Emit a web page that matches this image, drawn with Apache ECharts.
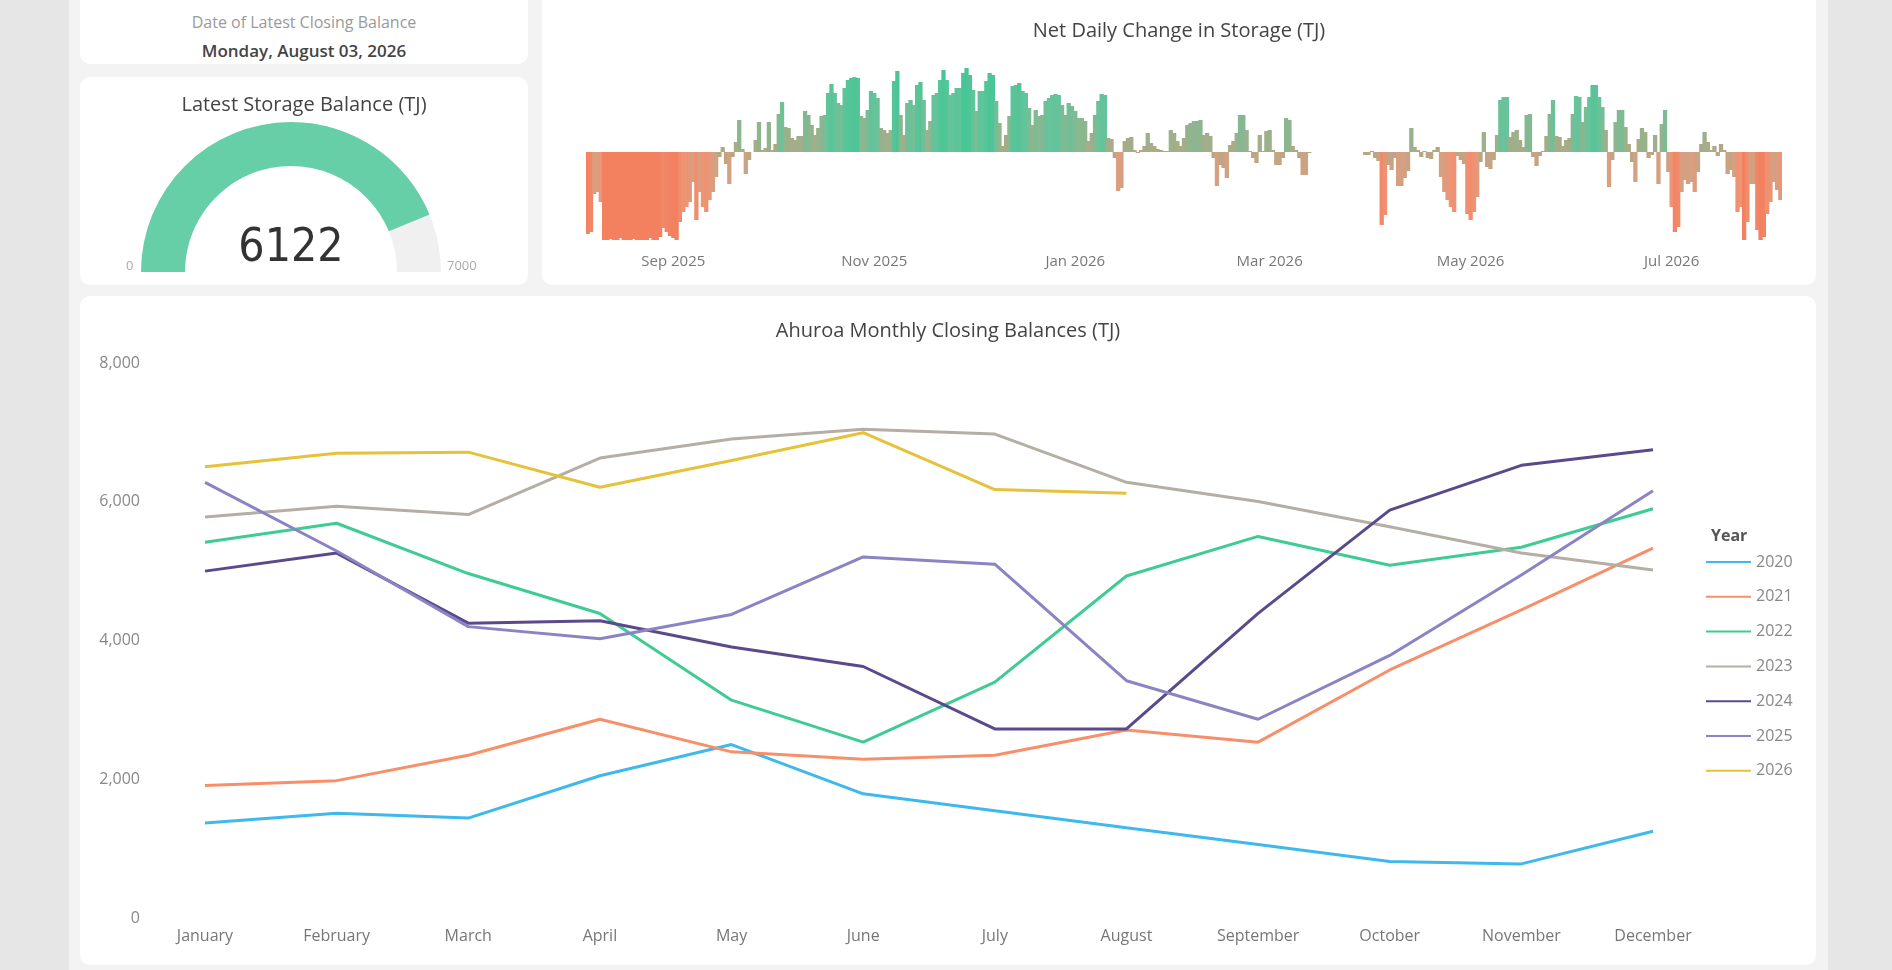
<!DOCTYPE html>
<html>
<head>
<meta charset="utf-8">
<title>Ahuroa Storage</title>
<script src="https://cdn.jsdelivr.net/npm/echarts@6/dist/echarts.min.js"></script>
<style>
    html, body { margin: 0; padding: 0; }
    body {
        width: 1892px; height: 970px; position: relative; overflow: hidden;
        background: #e6e6e6;
        font-family: 'Segoe UI', 'Open Sans', sans-serif;
    }
    #page { position: absolute; left: 69px; top: 0; width: 1759px; height: 970px; background: #f3f3f3; }
    .card { position: absolute; background: #fff; border-radius: 10px; overflow: hidden; }
    .chart { position: absolute; left: 0; top: 0; width: 100%; height: 100%; }
    .txt { position: absolute; left: 0; width: 100%; text-align: center; white-space: nowrap; }
    #dateTitle { top: 21px; font-size: 16px; line-height: 22px; color: #9a9a9a; }
    #dateValue { top: 49px; font-size: 17px; line-height: 24px; color: #444; font-weight: 600; }
</style>
</head>
<body>
<div id="page"></div>
<div class="card" style="left:80px;top:-10px;width:448px;height:74px">
    <div class="txt" id="dateTitle">Date of Latest Closing Balance</div>
    <div class="txt" id="dateValue"></div>
</div>
<div class="card" style="left:80px;top:77px;width:448px;height:208px">
    <div class="chart" id="gauge"></div>
</div>
<div class="card" style="left:542px;top:-10px;width:1274px;height:295px">
    <div class="chart" id="daily"></div>
</div>
<div class="card" style="left:80px;top:296px;width:1736px;height:669px">
    <div class="chart" id="monthly"></div>
</div>
<script>
// 最新结余
var latestDate = 'Monday, August 03, 2026';
var latestBalance = 6122;
var gaugeMax = 7000;

// 月度结余 (TJ)
var months = ['January', 'February', 'March', 'April', 'May', 'June', 'July',
    'August', 'September', 'October', 'November', 'December'];
var years = ['2020', '2021', '2022', '2023', '2024', '2025', '2026'];
var bal2020 = [1370, 1510, 1440, 2050, 2500, 1790, 1545, 1300, 1060, 815, 780, 1250];
var bal2021 = [1910, 1980, 2345, 2865, 2395, 2290, 2345, 2710, 2535, 3575, 4440, 5330];
var bal2022 = [5415, 5690, 4965, 4390, 3140, 2535, 3400, 4930, 5500, 5085, 5345, 5900];
var bal2023 = [5780, 5935, 5815, 6630, 6905, 7045, 6975, 6280, 6005, 5640, 5260, 5015];
var bal2024 = [5000, 5260, 4250, 4285, 3905, 3625, 2725, 2725, 4390, 5880, 6525, 6750];
var bal2025 = [6280, 5290, 4200, 4025, 4375, 5205, 5100, 3420, 2865, 3785, 4945, 6160];
var bal2026 = [6505, 6700, 6715, 6210, 6595, 6995, 6175, 6122];
var yearColors = ['#3fb8ec', '#f78f6b', '#3ecc94', '#b5aea4', '#5b4a8b', '#8a84c4', '#e6c13a'];

// 每日净变化 (TJ), 自 2025-08-06 起, null 为缺失日
var startDay = '2025-08-06';
var tickDays = ['2025-09-01', '2025-11-01', '2026-01-01', '2026-03-01', '2026-05-01', '2026-07-01'];
var tickLabels = ['Sep 2025', 'Nov 2025', 'Jan 2026', 'Mar 2026', 'May 2026', 'Jul 2026'];
var dailyChange = [
    -82, -80, -42, -40, -50, -88, -88, -87, -88, -88, -86, -88, -88, -88, -87, -88,
    -88, -88, -88, -86, -88, -88, -85, -76, -80, -84, -86, -88, -70, -60, -55, -50,
    -30, -68, -40, -55, -60, -48, -40, -25, -5, 5, -12, -32, -5, 10, 32, 3,
    -22, -8, 0, 12, 30, 2, 4, 30, 2, 8, 38, 50, 25,
    24, 14, 12, 16, 16, 41, 37, 27, 17, 24, 36, 37, 59, 68, 59, 49,
    47, 64, 72, 74, 75, 74, 36, 34, 42, 61, 59, 54, 24, 22, 19, 22,
    71, 81, 37, 17, 49, 52, 47, 67, 70, 52, 22, 31, 57, 59, 72, 82,
    72, 57, 59, 64, 64, 79, 84, 77, 62, 41, 61, 61, 71, 79,
    77, 51, 29, 6, 17, 36, 66, 67, 69, 61, 59, 44, 27, 42, 36, 37,
    51, 54, 57, 58, 57, 47, 37, 49, 46, 41, 34, 34, 31, 11, 19, 37,
    51, 58, 57, 14, 13, -6, -39, -36, 11, 14, 15, 2, -1, 2, 6, 19,
    9, 6, 3, 2, 1, 1, 22, 19, 11, 6, 14, 27, 29, 31,
    31, 32, 17, 19, 16, -6, -34, -13, -16, -26, 7, 11, 19, 37, 37, 22,
    1, -6, -11, 17, 1, 21, 22, 2, -13, -13, -6, 34, 32, 6, 2, -6,
    -23, -23, -1,
    null, null, null, null, null, null, null, null,
    null, null, null, null, null, null, null, null,
    -3, -3, 1, -6, -9, -73, -63, -13, -18, -6, -34, -34, -26, -19, 24,
    5, 2, -5, 1, -6, -7, 2, 5, -25, -40, -48, -55, -60, -4, -8, -12,
    -62, -68, -60, -45, -10, 20, -15, -17, -8, 17, 52, 55, 55, 15, 20, 22,
    12, 5, 37, 38, -5, -14, -4, 1, 16, 38, 52, 16, 15, 6, 12, 14,
    38, 56, 55, 30, 45, 55, 67, 67, 55, 45, 22, -35, -8,
    30, 42, 42, 25, 8, -10, -30, 13, 24, 20, -6, -3, 17, -32, 28, 42,
    -20, -55, -80, -75, -40, -28, -32, -30, -40, -20, 8, 20, 10, 2, 6, -4,
    8, 2, -22, -18, -25, -60, -55, -88, -70, -32, -32, -78, -88, -85, -62, -50,
    -30, -38, -48
];

var fontFamily = "'Segoe UI', 'Open Sans', sans-serif";
var titleStyle = { fontSize: 20, fontWeight: 'normal', color: '#444', fontFamily: fontFamily };

document.getElementById('dateValue').textContent = latestDate;

// 日期类目
var days = [];
var t0 = new Date(startDay + 'T00:00:00Z').getTime();
for (var i = 0; i < dailyChange.length; i++) {
    days.push(new Date(t0 + i * 86400000).toISOString().slice(0, 10));
}

// 仪表盘
var gaugeChart = echarts.init(document.getElementById('gauge'));
gaugeChart.setOption({
    animation: false,
    title: { text: 'Latest Storage Balance (TJ)', left: 'center', top: 13, textStyle: titleStyle },
    graphic: [
        { type: 'text', left: 46, top: 183, style: { text: '0', fill: '#aaa', fontSize: 13, fontFamily: fontFamily } },
        { type: 'text', left: 367, top: 183, style: { text: String(gaugeMax), fill: '#aaa', fontSize: 13, fontFamily: fontFamily } }
    ],
    series: [{
        type: 'gauge',
        center: [211, 195],
        radius: 150,
        startAngle: 180,
        endAngle: 0,
        min: 0,
        max: gaugeMax,
        progress: { show: true, width: 44, itemStyle: { color: '#66cfa8' } },
        axisLine: { lineStyle: { width: 44, color: [[1, '#f0f0f0']] } },
        pointer: { show: false },
        anchor: { show: false },
        axisTick: { show: false },
        splitLine: { show: false },
        axisLabel: { show: false },
        title: { show: false },
        detail: {
            offsetCenter: [0, -23],
            fontSize: 46,
            fontWeight: 'normal',
            color: '#333',
            fontFamily: "'DejaVu Sans Condensed', sans-serif",
            formatter: '{value}'
        },
        data: [{ value: latestBalance }]
    }]
});

// 每日净变化柱状图
var dailyChart = echarts.init(document.getElementById('daily'));
dailyChart.setOption({
    animation: false,
    title: { text: 'Net Daily Change in Storage (TJ)', left: 'center', top: 26, textStyle: titleStyle },
    grid: { left: 44, right: 34, top: 72, bottom: 43 },
    visualMap: {
        show: false,
        type: 'continuous',
        seriesIndex: 0,
        min: -88,
        max: 85,
        inRange: { color: ['#f3805f', '#ef9373', '#d3a183', '#b8a683', '#94b38d', '#66c39b', '#45c695'] }
    },
    xAxis: {
        type: 'category',
        data: days,
        axisLine: { show: false, onZero: false },
        axisTick: { show: false },
        axisLabel: {
            interval: function (idx, value) { return tickDays.indexOf(value) >= 0; },
            formatter: function (value) {
                var k = tickDays.indexOf(value);
                return k >= 0 ? tickLabels[k] : '';
            },
            color: '#777',
            fontSize: 15,
            margin: 12,
            fontFamily: fontFamily
        }
    },
    yAxis: { type: 'value', min: -90, max: 90, show: false },
    series: [{
        type: 'bar',
        data: dailyChange,
        barWidth: '130%'
    }]
});

// 月度结余折线图
var balances = [bal2020, bal2021, bal2022, bal2023, bal2024, bal2025, bal2026];
var lineSeries = years.map(function (y, k) {
    return {
        name: y,
        type: 'line',
        data: balances[k],
        symbol: 'none',
        lineStyle: { width: 3, color: yearColors[k] },
        itemStyle: { color: yearColors[k] }
    };
});
var monthlyChart = echarts.init(document.getElementById('monthly'));
monthlyChart.setOption({
    animation: false,
    title: [
        { text: 'Ahuroa Monthly Closing Balances (TJ)', left: 'center', top: 20, textStyle: titleStyle },
        { text: 'Year', left: 1626, top: 227, textStyle: { fontSize: 16, fontWeight: 'bold', color: '#555', fontFamily: fontFamily } }
    ],
    grid: { left: 125, right: 163, top: 67, bottom: 47 },
    legend: {
        orient: 'vertical',
        left: 1625,
        top: 258,
        padding: 0,
        itemWidth: 45,
        itemHeight: 14,
        itemGap: 18.8,
        data: years,
        itemStyle: { opacity: 0 },
        textStyle: { fontSize: 16, color: '#888', fontFamily: fontFamily }
    },
    xAxis: {
        type: 'category',
        data: months,
        boundaryGap: false,
        axisLine: { show: false },
        axisTick: { show: false },
        axisLabel: { color: '#777', fontSize: 16, margin: 10, fontFamily: fontFamily }
    },
    yAxis: {
        type: 'value',
        min: 0,
        max: 8000,
        interval: 2000,
        splitLine: { show: false },
        axisLabel: {
            color: '#888',
            fontSize: 16,
            margin: 65,
            fontFamily: fontFamily,
            formatter: function (v) { return v.toLocaleString('en-US'); }
        }
    },
    series: lineSeries
});
</script>
</body>
</html>
